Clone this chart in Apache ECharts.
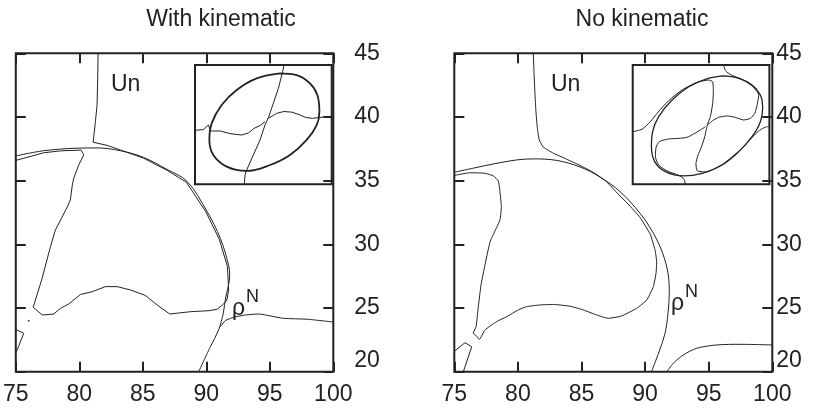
<!DOCTYPE html>
<html>
<head>
<meta charset="utf-8">
<script src="https://cdn.jsdelivr.net/npm/echarts@6/dist/echarts.min.js"></script>
<style>
html,body{margin:0;padding:0;background:#fff;}
#chart{width:823px;height:409px;}
</style>
</head>
<body>
<div id="chart"></div>
<script>
// ---- Data (data coordinates) ----
const xTicks = [75, 80, 85, 90, 95, 100];
const yTicks = [20, 25, 30, 35, 40, 45];
const panelTitles = ['With kinematic', 'No kinematic'];

// Left panel ("With kinematic")
const leftCircle = [[75,36.94],[77.20,37.35],[79.83,37.55],[81.40,37.57],[83.24,37.35],[85.05,36.83],[86.91,35.88],[88.49,34.94],[90.06,32.58],[91.11,30.46],[91.76,28.34],[91.84,27.52],[91.70,26.57],[91.52,25.79],[91.34,24.61],[90.97,23.28],[90.32,21.96],[89.40,20]];
const leftUnContour = [[81.48,45],[81.45,43.05],[81.40,40.95],[81.27,39.64],[81.09,38.02],[82.19,37.77],[83.24,37.41],[85.05,36.77],[86.90,35.82],[88.43,34.88],[89.98,32.53],[91.02,30.40],[91.66,28.28],[91.72,27.20],[91.76,26.42],[91.62,25.63],[91.37,25.32],[90.85,24.90],[90.19,24.79],[88.75,24.71],[87.12,24.53],[86.13,25.24],[85.20,25.99],[84.02,26.42],[82.98,26.68],[82.06,26.68],[81.01,26.28],[80.09,26.06],[79.17,25.32],[78.52,24.98],[77.99,24.53],[77.08,24.45],[76.37,25.06],[77.08,27.36],[77.73,29.82],[78.12,31.13],[78.65,32.15],[79.09,33.02],[79.30,33.49],[79.44,34.59],[79.56,35.19],[79.96,36.24],[80.35,37.02],[80.13,37.40],[78.52,37.34],[77.20,37.19],[75,36.59]];
const leftRhoN = [[91.11,23.53],[91.50,24.01],[92.15,24.27],[93.07,24.45],[94.12,24.53],[95.04,24.38],[96.09,24.19],[97.93,24.12],[100,23.90]];
const leftCornerPiece = [[75,23.31],[75.63,23.02],[75.11,21.71],[75,21.47]];
const leftDot = [[76.02,24.01]];

// Right panel ("No kinematic")
const rightCircle = [[75,35.66],[76.49,35.98],[78.07,36.31],[79.91,36.63],[81.21,36.71],[83.05,36.59],[84.88,36.08],[86.45,35.29],[88.03,34.14],[89.60,32.44],[90.65,30.87],[91.38,29.30],[91.80,27.73],[91.90,26.16],[91.80,24.59],[91.57,23.02],[91.09,21.55],[90.50,20]];
const rightUnContour = [[81.21,45],[81.27,43.44],[81.34,41.87],[81.42,40.42],[81.53,39.12],[81.68,38.20],[82.00,37.63],[82.78,37.16],[83.84,36.68],[84.88,36.20],[85.93,35.65],[86.98,34.90],[87.87,33.96],[88.66,33.17],[89.60,32.11],[90.39,30.82],[90.78,29.56],[90.91,28.62],[90.86,27.73],[90.65,26.68],[90.13,25.63],[89.34,24.98],[88.16,24.38],[87.11,24.19],[86.20,24.45],[85.14,24.85],[84.10,25.14],[82.78,25.28],[81.74,25.24],[80.69,25.11],[80.03,24.85],[79.12,24.32],[78.33,23.93],[77.41,23.28],[76.97,22.53],[76.71,22.84],[76.49,23.02],[76.71,23.53],[76.89,25.11],[77.10,26.81],[77.41,28.38],[77.81,30.19],[78.20,31.05],[78.59,31.92],[78.70,32.96],[78.59,34.12],[78.46,34.98],[78.07,35.37],[77.41,35.58],[76.23,35.62],[75,35.41]];
const rightLowerRight = [[91.70,20],[92.22,20.66],[93.00,21.31],[94.06,21.84],[95.63,22.10],[97.46,22.15],[100,22.10]];
const rightCornerPiece = [[75,21.6],[75.84,22.28],[76.37,21.96],[75.71,20]];

// Insets (normalised 0..100 coordinates)
const leftInsetEllipse = [[62.2,93.0],[74.4,91.6],[84.1,84.6],[89.5,74.9],[91.0,60.9],[89.0,49.7],[81.7,37.2],[69.5,24.6],[54.9,16.2],[37.8,11.2],[23.2,14.8],[13.4,24.6],[10.5,37.2],[12.2,51.1],[19.5,66.5],[30.5,79.1],[45.1,88.8],[62.2,93.0]];
const leftInsetVertical = [[65.1,100],[64.1,94.4],[61.0,80.4],[57.3,67.9],[53.7,55.9],[51.2,49.7],[47.6,37.2],[42.7,24.6],[37.8,12.0],[36.6,7.8],[36.1,0]];
const leftInsetRight = [[53.7,55.3],[59.8,59.5],[65.0,61.0],[70.7,60.5],[76.0,58.5],[81.0,56.0],[86.0,55.3],[91.0,56.0],[96.3,56.5],[100,56.5]];
const leftInsetLeft = [[0,45.3],[6.1,45.8],[9.8,49.7],[11.5,44.7],[18.3,44.7],[25.6,42.5],[34.1,41.3],[39.0,43.0],[43.2,46.9],[47.6,49.2],[51.2,52.5]];

const rightInsetEllipse = [[65.4,90.8],[77.6,88.8],[87.3,83.2],[93.4,74.9],[95.1,65.1],[93.4,52.5],[87.3,39.9],[77.6,27.4],[65.4,16.2],[50.7,9.2],[37.3,7.0],[23.9,10.6],[16.1,19.0],[13.7,31.6],[14.6,44.1],[19.0,56.7],[28.8,70.7],[41.0,81.8],[53.2,88.0],[65.4,90.8]];
const rightInsetA = [[66.6,100],[67.8,95.3],[72.2,91.6],[80.0,88.0],[87.3,82.4],[92.2,74.9],[91.0,66.5],[89.3,59.5],[86.1,55.3],[81.2,53.9],[75.1,56.1],[69.0,57.3],[62.9,56.1],[58.5,53.4],[54.4,49.4]];
const rightInsetB = [[0,44.1],[6.8,46.1],[12.9,52.5],[17.8,59.5],[26.3,70.1],[36.1,79.1],[47.1,85.5],[55.6,87.4],[58.5,85.8],[59.0,77.7],[58.5,67.9],[56.8,56.7],[54.4,49.4]];
const rightInsetC = [[38.5,0],[37.6,4.2],[33.7,7.5],[25.1,11.2],[19.0,16.2],[16.6,23.2],[17.1,31.0],[19.5,35.8],[26.3,38.0],[33.7,38.5],[39.8,39.4],[44.6,42.2],[49.5,45.5],[53.2,48.3]];
const rightInsetD = [[54.4,48.9],[52.7,39.9],[50.2,31.0],[47.8,24.6],[46.3,17.6],[47.1,11.5],[53.2,10.3],[65.4,16.5],[77.6,27.7],[86.1,37.7],[91.0,43.6],[95.1,46.9],[100,48.9]];

// ---- Chart ----
const FONT = '"Liberation Sans", Arial, Helvetica, sans-serif';
const INK = '#222';
const chart = echarts.init(document.getElementById('chart'), null, {renderer: 'canvas'});

const tickStyle = {inside: true, length: 10, lineStyle: {color: INK, width: 2}};
function mainX(gi, pos, showLabel) {
  return {
    gridIndex: gi, type: 'value', position: pos,
    min: xTicks[0], max: xTicks[xTicks.length - 1], interval: 5,
    axisLine: {show: false}, axisTick: tickStyle, splitLine: {show: false},
    axisLabel: {show: showLabel, fontSize: 23, color: INK, fontFamily: FONT, margin: 11}
  };
}
function mainY(gi, pos, showLabel, margin) {
  return {
    gridIndex: gi, type: 'value', position: pos,
    min: yTicks[0], max: yTicks[yTicks.length - 1], interval: 5,
    axisLine: {show: false}, axisTick: tickStyle, splitLine: {show: false},
    axisLabel: {show: showLabel, fontSize: 23, color: INK, fontFamily: FONT, margin: margin,
      verticalAlignMinLabel: 'bottom'}
  };
}
function insetAxis(gi) {
  return {gridIndex: gi, type: 'value', min: 0, max: 100, show: false};
}
function line(data, ai, opts) {
  opts = opts || {};
  return {
    type: 'line', data: data, xAxisIndex: ai, yAxisIndex: ai,
    showSymbol: false, symbol: 'none', silent: true, animation: false,
    smooth: opts.smooth || false, clip: true,
    lineStyle: {color: opts.color || INK, width: opts.width || 1}
  };
}

const gridBase = {show: true, borderColor: INK, borderWidth: 2, backgroundColor: 'transparent', containLabel: false};

function txt(text, x, y, size, align) {
  return {type: 'text', x: x, y: y, silent: true,
    style: {text: text, font: size + 'px ' + FONT, fill: INK, align: align, verticalAlign: 'middle',
            textAlign: align, textVerticalAlign: 'middle'}};
}

const option = {
  animation: false,
  backgroundColor: '#fff',
  grid: [
    Object.assign({left: 15.3, top: 53.3, width: 318, height: 318.4}, gridBase),
    Object.assign({left: 454.3, top: 53.3, width: 318, height: 318.4}, gridBase),
    Object.assign({left: 195, top: 65, width: 136.7, height: 119.3}, gridBase),
    Object.assign({left: 632.7, top: 65, width: 136.7, height: 119.3}, gridBase)
  ],
  xAxis: [
    mainX(0, 'bottom', true), mainX(0, 'top', false),
    mainX(1, 'bottom', true), mainX(1, 'top', false),
    insetAxis(2), insetAxis(3)
  ],
  yAxis: [
    mainY(0, 'right', true, 21), mainY(0, 'left', false, 8),
    mainY(1, 'right', true, 4), mainY(1, 'left', false, 8),
    insetAxis(2), insetAxis(3)
  ],
  series: [
    line(leftCircle, 0, {smooth: 0.35}),
    line(leftUnContour, 0),
    line(leftRhoN, 0, {smooth: 0.2}),
    line(leftCornerPiece, 0),
    {type: 'scatter', data: leftDot, xAxisIndex: 0, yAxisIndex: 0, symbolSize: 2,
     itemStyle: {color: INK}, silent: true},
    line(rightCircle, 2, {smooth: 0.35}),
    line(rightUnContour, 2, {smooth: 0.15}),
    line(rightLowerRight, 2, {smooth: 0.3}),
    line(rightCornerPiece, 2),
    line(leftInsetEllipse, 4, {smooth: 0.4, width: 1.8}),
    line(leftInsetVertical, 4),
    line(leftInsetRight, 4),
    line(leftInsetLeft, 4),
    line(rightInsetEllipse, 5, {smooth: 0.4, width: 1.3}),
    line(rightInsetA, 5, {smooth: 0.2}),
    line(rightInsetB, 5, {smooth: 0.2}),
    line(rightInsetC, 5, {smooth: 0.2}),
    line(rightInsetD, 5, {smooth: 0.2})
  ],
  graphic: [
    txt(panelTitles[0], 221, 20, 23, 'center'),
    txt(panelTitles[1], 642, 20, 23, 'center'),
    txt('Un', 111, 85, 23, 'left'),
    txt('Un', 551, 85, 23, 'left'),
    txt('ρ', 232, 309, 23, 'left'),
    txt('N', 246, 297, 18, 'left'),
    txt('ρ', 671, 304, 23, 'left'),
    txt('N', 685, 292, 18, 'left')
  ]
};
chart.setOption(option);
</script>
</body>
</html>
